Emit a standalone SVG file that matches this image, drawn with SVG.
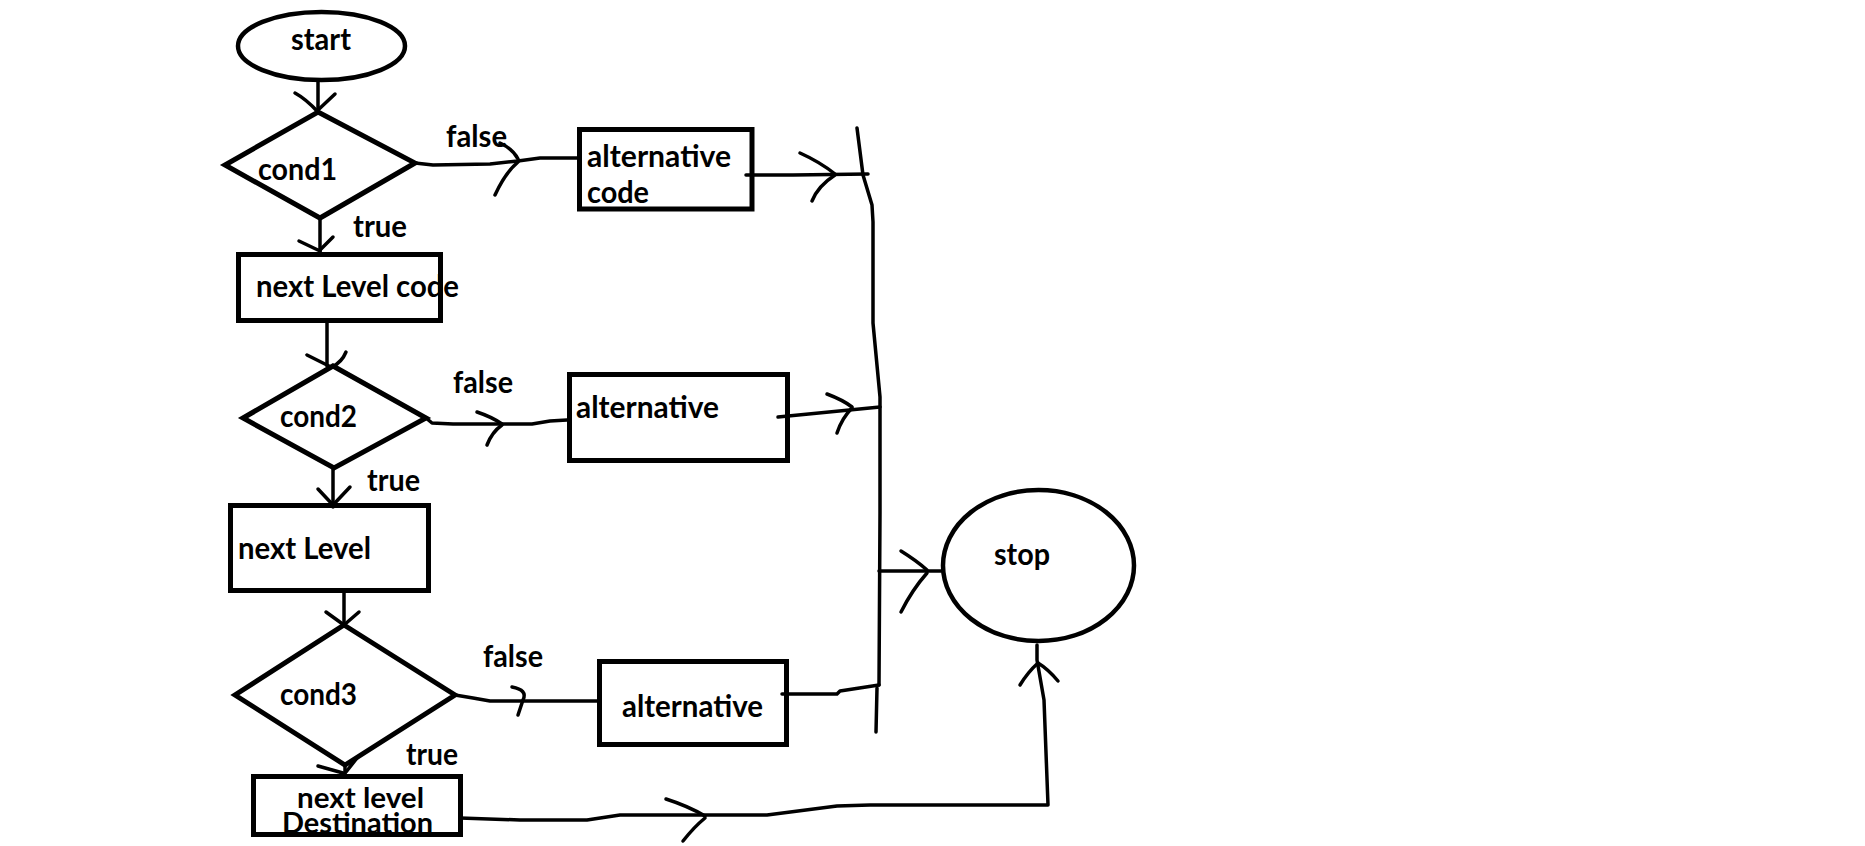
<svg xmlns="http://www.w3.org/2000/svg" width="1865" height="846" viewBox="0 0 1865 846">
<style>
.bg{fill:#ffffff}
.box{fill:none;stroke:#000;stroke-width:5}
.oval{fill:none;stroke:#000;stroke-width:4.5}
.dia{fill:none;stroke:#000;stroke-width:5;stroke-linejoin:miter}
.con{fill:none;stroke:#000;stroke-width:3.5;stroke-linecap:round;stroke-linejoin:round}
.t{font-family:Lato,"Open Sans","Liberation Sans",sans-serif;font-weight:bold;font-size:30.5px;fill:#000}
.s{font-size:28px}
</style>
<rect class="bg" x="0" y="0" width="1865" height="846"/>

<g id="start">
<ellipse class="oval" cx="321.5" cy="46" rx="83.5" ry="34"/>
<text class="t" x="291" y="50" textLength="60" lengthAdjust="spacingAndGlyphs">start</text>
</g>

<g id="cond1">
<polygon class="dia" points="318,112 415,163 320,218 225,165"/>
<text class="t" x="258" y="180" textLength="79" lengthAdjust="spacingAndGlyphs">cond1</text>
</g>

<g id="alt1">
<rect class="box" x="579.5" y="129.5" width="172.5" height="79.5"/>
<text class="t" x="587" y="167" textLength="144" lengthAdjust="spacingAndGlyphs">alternative</text>
<text class="t" x="587" y="203" textLength="62" lengthAdjust="spacingAndGlyphs">code</text>
</g>

<g id="nextLevelCode">
<rect class="box" x="238.5" y="254.5" width="202" height="66"/>
<text class="t" x="256" y="297" textLength="203" lengthAdjust="spacingAndGlyphs">next Level code</text>
</g>

<g id="cond2">
<polygon class="dia" points="333,366 426,418 334,468 243,418"/>
<text class="t" x="280" y="427" textLength="77" lengthAdjust="spacingAndGlyphs">cond2</text>
</g>

<g id="alt2">
<rect class="box" x="569.5" y="374.5" width="218" height="86"/>
<text class="t" x="576" y="418" textLength="143" lengthAdjust="spacingAndGlyphs">alternative</text>
</g>

<g id="nextLevel">
<rect class="box" x="230.5" y="505.5" width="198" height="85"/>
<text class="t" x="238" y="559" textLength="133" lengthAdjust="spacingAndGlyphs">next Level</text>
</g>

<g id="cond3">
<polygon class="dia" points="344,625 455,695 345,765 235,695"/>
<text class="t" x="280" y="705" textLength="77" lengthAdjust="spacingAndGlyphs">cond3</text>
</g>

<g id="alt3">
<rect class="box" x="599.5" y="661.5" width="187" height="83"/>
<text class="t" x="622" y="717" textLength="141" lengthAdjust="spacingAndGlyphs">alternative</text>
</g>

<g id="destination">
<text class="t s" x="297" y="808" textLength="127" lengthAdjust="spacingAndGlyphs">next level</text>
<text class="t s" x="282" y="833" textLength="151" lengthAdjust="spacingAndGlyphs">Destination</text>
<rect class="box" x="253.5" y="776.5" width="207" height="58"/>
</g>

<g id="stop">
<ellipse class="oval" cx="1038.5" cy="565.5" rx="95.5" ry="75.5"/>
<text class="t" x="994" y="565" textLength="56" lengthAdjust="spacingAndGlyphs">stop</text>
</g>

<g id="labels">
<text class="t" x="446" y="147" textLength="61" lengthAdjust="spacingAndGlyphs">false</text>
<text class="t" x="353" y="237" textLength="54" lengthAdjust="spacingAndGlyphs">true</text>
<text class="t" x="453" y="393" textLength="60" lengthAdjust="spacingAndGlyphs">false</text>
<text class="t" x="367" y="491" textLength="53" lengthAdjust="spacingAndGlyphs">true</text>
<text class="t" x="483" y="667" textLength="60" lengthAdjust="spacingAndGlyphs">false</text>
<text class="t" x="406" y="765" textLength="52" lengthAdjust="spacingAndGlyphs">true</text>
</g>

<g id="connectors">
<path class="con" d="M318,80 L318,112"/>
<path class="con" d="M295,93 Q306,99 318,112"/>
<path class="con" d="M335,94 L318,110"/>
<path class="con" d="M415,163 L433,165 L490,164 L518,161 L540,158 L577,158"/>
<path class="con" d="M500,143 Q513,149 518,159"/>
<path class="con" d="M495,195 Q505,173 518,162"/>
<path class="con" d="M320,218 L320,252"/>
<path class="con" d="M299,241 L320,251"/>
<path class="con" d="M333,237 L320,250"/>
<path class="con" d="M746,175 L793,175 L868,174"/>
<path class="con" d="M800,153 Q820,162 835,174"/>
<path class="con" d="M812,201 Q818,186 835,175"/>
<path class="con" d="M857,128 L863,175 L872,205 L873,222 L873,323 L880,397 L880,513 L879,685"/>
<path class="con" d="M877,688 L876,732"/>
<path class="con" d="M327,323 L327,366"/>
<path class="con" d="M307,355 L331,367"/>
<path class="con" d="M346,352 Q342,362 332,367"/>
<path class="con" d="M426,418 L432,423 L453,424 L532,424 L550,421 L567,420"/>
<path class="con" d="M477,412 Q492,417 502,424"/>
<path class="con" d="M487,445 Q492,432 502,425"/>
<path class="con" d="M333,468 L333,507"/>
<path class="con" d="M318,489 L333,505"/>
<path class="con" d="M350,487 L333,505"/>
<path class="con" d="M778,417 L880,407"/>
<path class="con" d="M827,394 Q843,400 852,407"/>
<path class="con" d="M837,433 Q842,418 852,408"/>
<path class="con" d="M879,571 L941,571"/>
<path class="con" d="M901,551 Q917,561 927,570"/>
<path class="con" d="M901,612 Q912,590 927,573"/>
<path class="con" d="M344,593 L344,625"/>
<path class="con" d="M326,612 L344,625"/>
<path class="con" d="M359,612 L344,625"/>
<path class="con" d="M455,695 L473,698 L490,701 L597,701"/>
<path class="con" d="M512,687 Q528,690 523,700 L518,715"/>
<path class="con" d="M345,765 L345,775"/>
<path class="con" d="M318,766 L343,773"/>
<path class="con" d="M357,758 L346,772"/>
<path class="con" d="M782,694 L837,694 L840,691 L879,685"/>
<path class="con" d="M460,818 L520,820 L587,820 L620,815 L767,815 L837,806 L870,805 L1048,805 L1044,700 L1037,660 L1037,645"/>
<path class="con" d="M666,799 Q688,806 705,816"/>
<path class="con" d="M683,841 Q694,827 705,818"/>
<path class="con" d="M1020,685 Q1028,672 1038,663"/>
<path class="con" d="M1058,681 Q1048,669 1038,663"/>
</g>
</svg>
